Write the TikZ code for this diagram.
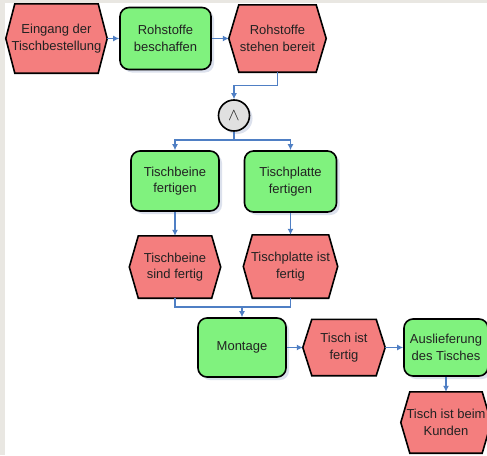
\documentclass[tikz,border=0pt]{standalone}
\usepackage{fontspec}
\setmainfont{Liberation Sans}
\usetikzlibrary{arrows.meta,shadows}
\definecolor{evred}{HTML}{F47E7E}
\definecolor{fngreen}{HTML}{80F27E}
\definecolor{conblue}{HTML}{4F7FC4}
\definecolor{shadowc}{HTML}{C5CDE2}
\definecolor{framegrey}{HTML}{E9E7E2}
\definecolor{txt}{HTML}{222222}
\pgfdeclarelayer{bg}
\pgfsetlayers{bg,main}
\newcommand{\evhex}[2][9]{%
  \begin{pgfonlayer}{bg}
    \fill[shadowc,opacity=0.6,xshift=3pt,yshift=-3pt] (#2.west) -- ([xshift=#1pt]#2.north west) -- ([xshift=-#1pt]#2.north east) -- (#2.east) -- ([xshift=-#1pt]#2.south east) -- ([xshift=#1pt]#2.south west) -- cycle;
    \draw[evshape] (#2.west) -- ([xshift=#1pt]#2.north west) -- ([xshift=-#1pt]#2.north east) -- (#2.east) -- ([xshift=-#1pt]#2.south east) -- ([xshift=#1pt]#2.south west) -- cycle;
  \end{pgfonlayer}}
\begin{document}
\begin{tikzpicture}[x=1pt,y=-1pt,
  every node/.style={font=\fontsize{13}{16.5}\selectfont, text=txt, align=center},
  evshape/.style={fill=evred, draw=black, line width=1.6pt, line join=miter},
  ev/.style 2 args={minimum width=#1, minimum height=#2, inner sep=0pt},
  fn/.style 2 args={minimum width=#1, minimum height=#2, inner sep=0pt, rounded corners=9pt,
     draw=black, line width=1.6pt, fill=fngreen,
     drop shadow={shadow xshift=3pt, shadow yshift=-3pt, fill=shadowc, opacity=0.6}},
  conn/.style={draw=conblue, line width=1.3pt, -{Latex[length=6pt,width=6pt]}},
  cline/.style={draw=conblue, line width=1.3pt}
]
\useasboundingbox (0,0) rectangle (487,455);
\begin{pgfonlayer}{bg}
  \fill[framegrey] (0,0) rectangle (487,455);
  \fill[white] (5,3) rectangle (487,455);
\end{pgfonlayer}

% nodes
\node[ev={101pt}{69pt}] (e1) at (56.5,38.5) {Eingang der\\Tischbestellung};
\evhex{e1}
\node[fn={91pt}{62pt}] (f1) at (165.5,38.5) {Rohstoffe\\beschaffen};
\node[ev={97pt}{67pt}] (e2) at (277.5,38.5) {Rohstoffe\\stehen bereit};
\evhex[10]{e2}
\node[circle, draw=black, line width=1.6pt, fill=black!12, minimum size=31pt, inner sep=0pt,
  font=\fontsize{17}{17}\selectfont,
  drop shadow={shadow xshift=3pt, shadow yshift=-3pt, fill=shadowc, opacity=0.6}] (and) at (234,115.5) {$\wedge$};
\node[fn={88pt}{60pt}] (f2) at (175,181) {Tischbeine\\fertigen};
\node[fn={92pt}{61pt}] (f3) at (290.5,181.5) {Tischplatte\\fertigen};
\node[ev={91pt}{62pt}] (e3) at (175,267) {Tischbeine\\sind fertig};
\evhex{e3}
\node[ev={94pt}{63pt}] (e4) at (290.5,266.5) {Tischplatte ist\\fertig};
\evhex{e4}
\node[fn={88pt}{59pt}] (mont) at (242,347.5) {Montage};
\node[ev={82pt}{56pt}] (e5) at (344,347.5) {Tisch ist\\fertig};
\evhex{e5}
\node[fn={84pt}{57pt}] (f5) at (446,347.5) {Auslieferung\\des Tisches};
\node[ev={90pt}{61pt}] (e6) at (446,422.5) {Tisch ist beim\\Kunden};
\evhex{e6}

% connectors
\coordinate (s) at (234,140);
\coordinate (m) at (242,307);
\draw[conn] (e1.east) -- (f1.west);
\draw[conn] (f1.east) -- (e2.west);
\draw[conn] (e2.south) -- ++(0,13) -| (and.north);
\draw[cline] (and.south) -- (s);
\draw[conn] (s) -| (f2.north);
\draw[conn] (s) -| (f3.north);
\draw[conn] (f2.south) -- (e3.north);
\draw[conn] (f3.south) -- (e4.north);
\draw[cline] (e4.south) |- (m);
\draw[conn] (e3.south) |- (m) -- (mont.north);
\draw[conn] (mont.east) -- (e5.west);
\draw[conn] (e5.east) -- (f5.west);
\draw[conn] (f5.south) -- (e6.north);
\end{tikzpicture}
\end{document}
